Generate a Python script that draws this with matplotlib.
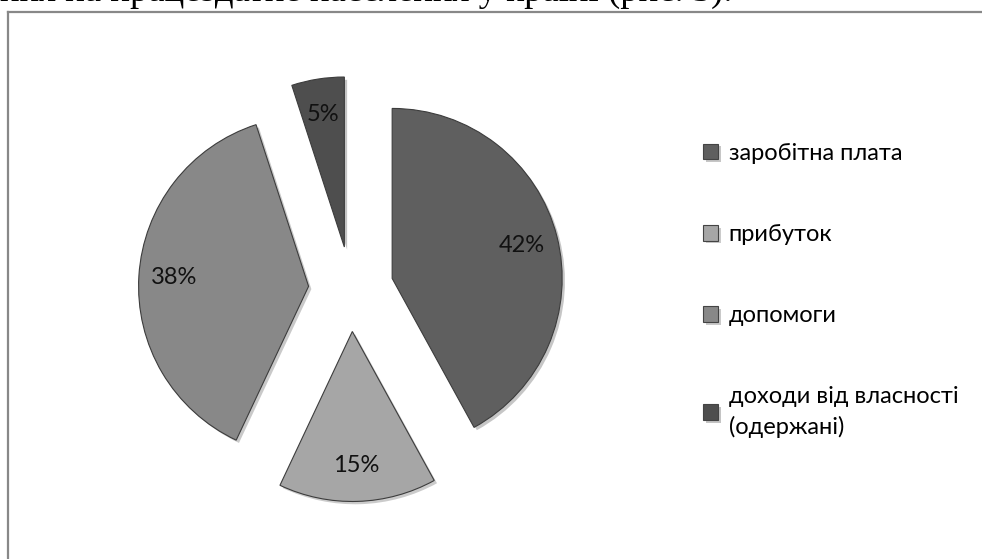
import matplotlib
matplotlib.use("Agg")
import matplotlib.pyplot as plt
import matplotlib.patheffects as pe
from matplotlib.lines import Line2D

# Data
labels = ['заробітна плата', 'прибуток', 'допомоги', 'доходи від власності\n(одержані)']
shares = [42, 15, 38, 5]
colors = ['#5f5f5f', '#a6a6a6', '#888888', '#4e4e4e']

W, H = 982, 559
fig = plt.figure(figsize=(W / 100, H / 100), dpi=100)
ax = fig.add_axes([0, 0, 1, 1])

# pie in pixel-like data units (y up)
cx, cy, r = 351, H - 289, 170
wedges, texts, autotexts = ax.pie(
    shares, colors=colors, startangle=90, counterclock=False,
    center=(cx, cy), radius=r, explode=[0.25 * r] * len(shares),
    autopct='%1.0f%%', pctdistance=0.79,
    wedgeprops=dict(edgecolor='#3c3c3c', linewidth=0.8),
    textprops=dict(fontsize=17, color='#111111', family='Lato'),
)
for w in wedges:
    w.set_path_effects([pe.SimplePatchShadow(offset=(2, -2), alpha=0.25), pe.Normal()])

ax.set_xlim(0, W)
ax.set_ylim(0, H)
ax.set_aspect('equal')
ax.axis('off')

leg = ax.legend(wedges, labels, loc='upper left', bbox_to_anchor=(691 / W, 1 - 131 / H),
                frameon=False, prop=dict(family='Lato', size=17),
                handlelength=0.65, handleheight=0.65, handletextpad=0.45,
                labelspacing=2.55, borderpad=0)
for h in leg.legend_handles:
    h.set_edgecolor('#444444')
for t in leg.get_texts():
    t.set_linespacing(1.45)

# chart frame (only left and top edges visible in the crop)
fig.add_artist(Line2D([8 / W, 8 / W], [0, 1 - 12 / H], color='#888888', lw=1.6))
fig.add_artist(Line2D([8 / W, 1], [1 - 12 / H, 1 - 12 / H], color='#888888', lw=1.6))

# cut-off document line above the chart
fig.text(0, 1 - 1 / H, 'ння на працездатне населення у країні (рис. 3).',
         family='Liberation Serif', fontsize=26.5, va='baseline', ha='left')

fig.savefig('out.png', dpi=100)
